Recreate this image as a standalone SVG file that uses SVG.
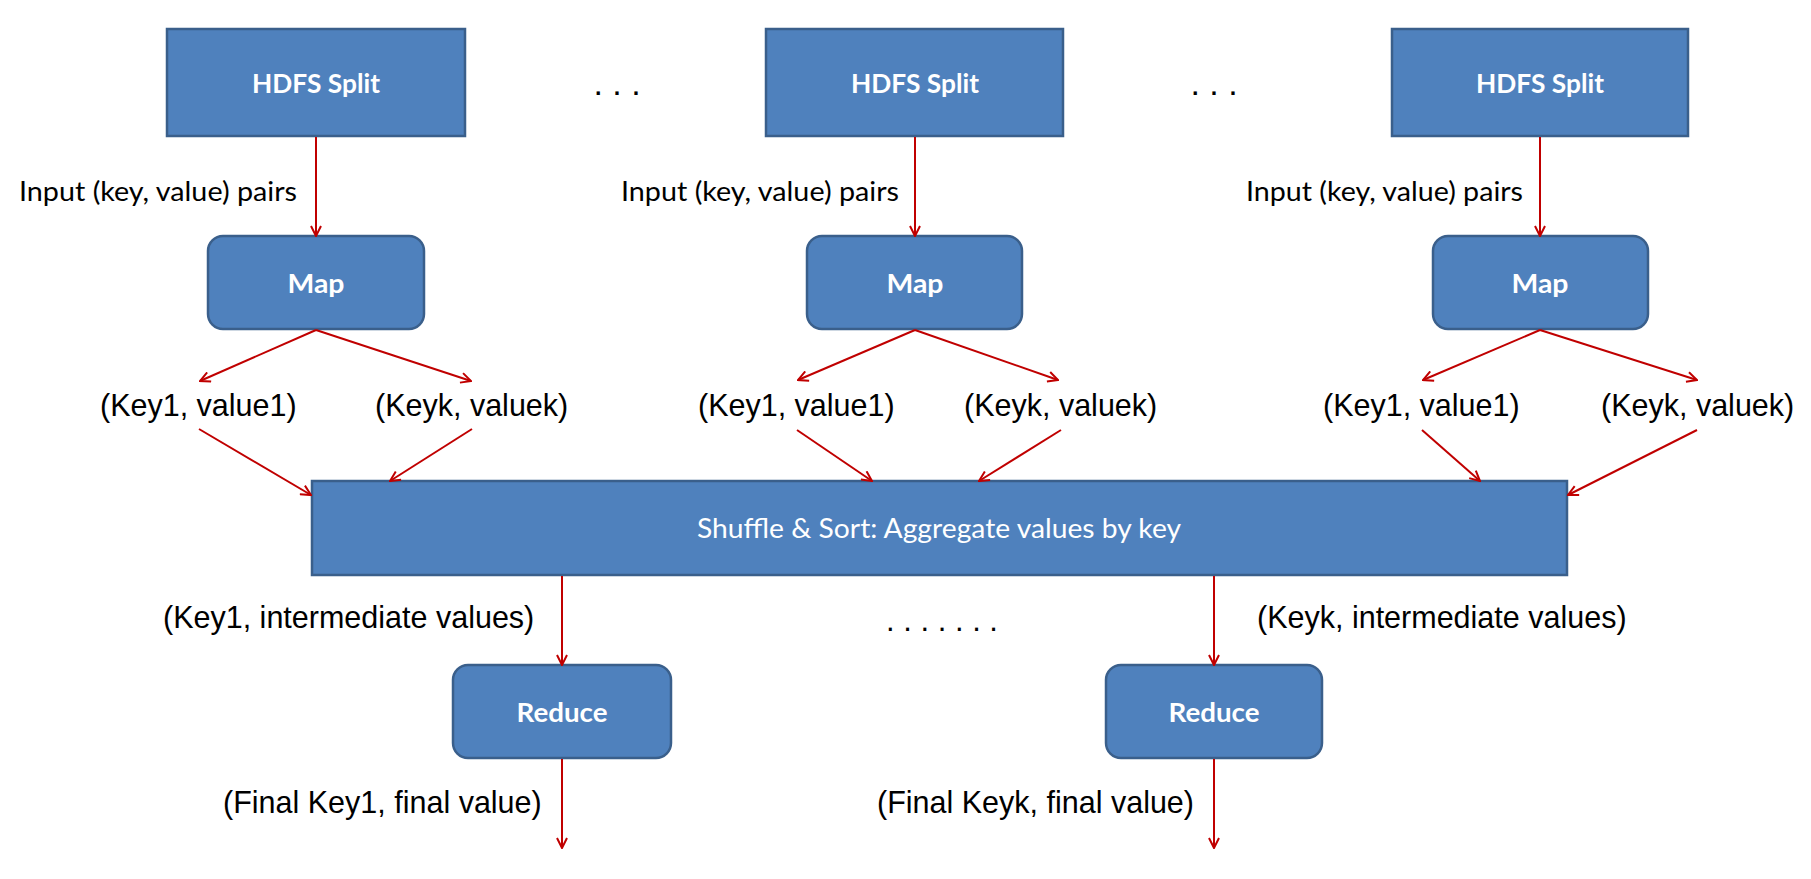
<svg xmlns="http://www.w3.org/2000/svg" width="1811" height="879" viewBox="0 0 1811 879">
<style>
.box{fill:#4F81BD;stroke:#3A5F8B;stroke-width:2.5}
.bl{font-family:Lato,"Open Sans","Liberation Sans",sans-serif;font-weight:bold;font-size:27px;fill:#FFFFFF;text-anchor:middle}
.cal{font-family:Lato,"Open Sans","Liberation Sans",sans-serif;font-size:26px;fill:#000000}
.ar{font-family:"Liberation Sans",Arial,sans-serif;font-size:30.5px;fill:#000000}
.dots{font-family:"Liberation Sans",Arial,sans-serif;fill:#000000}
.con line{stroke:#C00000;stroke-width:2;marker-end:url(#ah)}
</style>
<defs>
<marker id="ah" viewBox="0 0 12 12" refX="11" refY="6" markerWidth="12" markerHeight="12" orient="auto" markerUnits="userSpaceOnUse">
<path d="M1,1 L11,6 L1,11" fill="none" stroke="#C00000" stroke-width="2"/>
</marker>
</defs>
<rect width="1811" height="879" fill="#FFFFFF"/>

<g id="split1"><rect class="box" x="167" y="29" width="298" height="107"/><text class="bl" x="316" y="93" textLength="128" lengthAdjust="spacingAndGlyphs">HDFS Split</text></g>
<g id="split2"><rect class="box" x="766" y="29" width="297" height="107"/><text class="bl" x="915" y="93" textLength="128" lengthAdjust="spacingAndGlyphs">HDFS Split</text></g>
<g id="split3"><rect class="box" x="1392" y="29" width="296" height="107"/><text class="bl" x="1540" y="93" textLength="128" lengthAdjust="spacingAndGlyphs">HDFS Split</text></g>

<g id="dots-top">
<text class="dots" x="617" y="95" font-size="34" text-anchor="middle">. . .</text>
<text class="dots" x="1214" y="95" font-size="34" text-anchor="middle">. . .</text>
</g>

<g id="map1"><rect class="box" x="208" y="236" width="216" height="93" rx="15"/><text class="bl" x="316" y="293" textLength="57" lengthAdjust="spacingAndGlyphs">Map</text></g>
<g id="map2"><rect class="box" x="807" y="236" width="215" height="93" rx="15"/><text class="bl" x="915" y="293" textLength="57" lengthAdjust="spacingAndGlyphs">Map</text></g>
<g id="map3"><rect class="box" x="1433" y="236" width="215" height="93" rx="15"/><text class="bl" x="1540" y="293" textLength="57" lengthAdjust="spacingAndGlyphs">Map</text></g>

<g id="shuffle"><rect class="box" x="312" y="481" width="1255" height="94"/><text x="939" y="538" font-family="Lato,'Open Sans','Liberation Sans',sans-serif" font-size="26" fill="#FFFFFF" text-anchor="middle" textLength="484" lengthAdjust="spacingAndGlyphs">Shuffle &amp; Sort: Aggregate values by key</text></g>

<g id="reduce1"><rect class="box" x="453" y="665" width="218" height="93" rx="15"/><text class="bl" x="562" y="722" textLength="91" lengthAdjust="spacingAndGlyphs">Reduce</text></g>
<g id="reduce2"><rect class="box" x="1106" y="665" width="216" height="93" rx="15"/><text class="bl" x="1214" y="722" textLength="91" lengthAdjust="spacingAndGlyphs">Reduce</text></g>

<g id="labels">
<text class="cal" x="19" y="201" textLength="278" lengthAdjust="spacingAndGlyphs">Input (key, value) pairs</text>
<text class="cal" x="621" y="201" textLength="278" lengthAdjust="spacingAndGlyphs">Input (key, value) pairs</text>
<text class="cal" x="1246" y="201" textLength="277" lengthAdjust="spacingAndGlyphs">Input (key, value) pairs</text>
<text class="ar" x="100" y="416">(Key1, value1)</text>
<text class="ar" x="375" y="416">(Keyk, valuek)</text>
<text class="ar" x="698" y="416">(Key1, value1)</text>
<text class="ar" x="964" y="416">(Keyk, valuek)</text>
<text class="ar" x="1323" y="416">(Key1, value1)</text>
<text class="ar" x="1601" y="416">(Keyk, valuek)</text>
<text class="ar" x="163" y="628">(Key1, intermediate values)</text>
<text class="dots" x="886" y="631" font-size="31">. . . . . . .</text>
<text class="ar" x="1257" y="628">(Keyk, intermediate values)</text>
<text class="ar" x="223" y="813">(Final Key1, final value)</text>
<text class="ar" x="877" y="813">(Final Keyk, final value)</text>
</g>

<g id="connectors" class="con">
<line x1="316" y1="137" x2="316" y2="236"/>
<line x1="915" y1="137" x2="915" y2="236"/>
<line x1="1540" y1="137" x2="1540" y2="236"/>
<line x1="316" y1="330" x2="200" y2="381"/>
<line x1="316" y1="330" x2="471" y2="381"/>
<line x1="915" y1="330" x2="798" y2="380"/>
<line x1="915" y1="330" x2="1058" y2="380"/>
<line x1="1540" y1="330" x2="1423" y2="380"/>
<line x1="1540" y1="330" x2="1697" y2="380"/>
<line x1="199" y1="429" x2="311" y2="495"/>
<line x1="472" y1="429" x2="390" y2="481"/>
<line x1="797" y1="430" x2="872" y2="481"/>
<line x1="1061" y1="430" x2="979" y2="481"/>
<line x1="1422" y1="430" x2="1480" y2="481"/>
<line x1="1697" y1="430" x2="1568" y2="495"/>
<line x1="562" y1="576" x2="562" y2="665"/>
<line x1="1214" y1="576" x2="1214" y2="665"/>
<line x1="562" y1="759" x2="562" y2="848"/>
<line x1="1214" y1="759" x2="1214" y2="848"/>
</g>
</svg>
